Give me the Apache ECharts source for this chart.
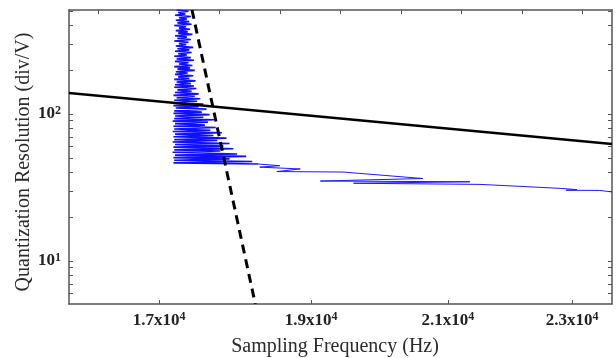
<!DOCTYPE html>
<html>
<head>
<meta charset="utf-8">
<script src="https://cdn.jsdelivr.net/npm/echarts@6/dist/echarts.min.js"></script>
<style>html,body{margin:0;padding:0;background:#fff;}#c{width:616px;height:358px;}</style>
</head>
<body>
<div id="c"></div>
<script>
// ---- data ----
const freqMin = 15916, freqMax = 23680;          // bottom axis extent (Hz, log)
const topMin = 15512, topMax = 24488;            // top axis extent (Hz, linear)
const resMin = 5.1, resMax = 510;                // y extent (div/V, log)

const freqTicks = [17000, 19000, 21000, 23000];
const freqTickText = ['1.7x10', '1.9x10', '2.1x10', '2.3x10'];
const freqTickExp = ['4', '4', '4', '4'];
const topTicks = [16000, 17000, 18000, 19000, 20000, 21000, 22000, 23000, 24000];
const resLabelTicks = [10, 100];
const resLabelText = ['10', '10'];
const resLabelExp = ['1', '2'];
const resTicks = [6, 7, 8, 9, 10, 20, 30, 40, 50, 60, 70, 80, 90, 100, 200, 300, 400, 500];

// dense measured band (upper part)
const bandFreq = [
  17220,17370,17240,17330,17200,17400,17250,17350,17210,17380,
  17230,17410,17190,17340,17250,17390,17210,17360,17240,17420,
  17200,17350,17230,17400,17190,17370,17250,17340,17210,17430,
  17230,17380,17200,17410,17240,17350,17190,17400,17220,17440,
  17200,17370,17250,17420,17190,17390,17230,17450,17210,17360,
  17200,17430,17240,17380,17190,17460,17220,17400,17200,17440,
  17190,17470,17230,17410,17200,17500,17180,17450,17220,17520,
  17190,17480,17200,17560,17180,17500,17210,17600,17190,17540,
  17180,17640,17200,17560,17190,17700,17170,17620,17200,17580,
  17180,17720,17190,17650,17170,17800,17200,17690,17180,17860,
  17190,17740,17170,17900,17200,17820,17180,17950,17190,17780,
  17170,18000,17200,18120,17180,17900,17190,18200,17180,18280
];
const bandRes = [
  510,500,490,480,470,461,452,443,434,425,
  417,408,400,392,384,377,369,362,355,348,
  341,334,327,321,314,308,302,296,290,284,
  278,273,267,262,257,252,247,242,237,232,
  228,223,219,214,210,206,202,198,194,190,
  186,182,179,175,172,168,165,161,158,155,
  152,149,146,143,140,137,134,132,129,127,
  124,122,119,117,114,112,110,108,105,103,
  101,99,97,95,93,91.5,89.5,88,86,84,
  82.5,81,79,77.5,76,74.5,73,71.5,70,68.5,
  67,66,64.5,63,62,60.5,59.5,58,57,56,
  55,53.5,52.5,51.5,50.5,49.5,48.5,47.5,46.5,45.7
];
// measured tail (lower right part)
const tailFreq = [18280, 18570, 18300, 18850, 18530, 19450, 20620, 19130, 21340, 19600, 21500,
  22140, 22800, 23080, 22900, 23470, 23680];
const tailRes = [45.7, 44.5, 43.5, 42.3, 40.6, 40.3, 36.4, 35, 34.6, 33.8, 33.2,
  32.2, 31.2, 30.6, 30.3, 30.2, 29.5];
const blackFreq = [15916, 23680];
const blackRes = [139, 62.5];
const dashFreq = [17415, 18240];
const dashRes = [510, 5.1];

// ---- chart ----
const L = Math.log10;
const pts = (xs, ys) => xs.map((x, i) => [L(x), L(ys[i])]);
const near = (arr, v) => arr.findIndex(t => Math.abs(L(t) - v) < 1e-6);

const serif = '"Liberation Serif", "DejaVu Serif", serif';
const axisCol = '#555';
const richLab = {
  b: {fontFamily: serif, fontSize: 17, fontWeight: 'bold', color: '#222'},
  s: {fontFamily: serif, fontSize: 12, fontWeight: 'bold', color: '#222', verticalAlign: 'top', padding: [0, 0, 7, 0]}
};

const chart = echarts.init(document.getElementById('c'), null, {renderer: 'canvas'});
chart.setOption({
  animation: false,
  backgroundColor: '#fff',
  grid: {left: 69, right: 4, top: 10, bottom: 54, containLabel: false},
  xAxis: [
    {
      type: 'value', position: 'bottom', min: L(freqMin), max: L(freqMax),
      axisLine: {show: true, onZero: false, lineStyle: {color: axisCol, width: 1.5}},
      axisTick: {show: true, inside: true, length: 4, customValues: freqTicks.map(L), lineStyle: {color: axisCol}},
      splitLine: {show: false},
      axisLabel: {
        customValues: freqTicks.map(L), margin: 7,
        formatter: v => { const i = near(freqTicks, v); return i < 0 ? '' : '{b|' + freqTickText[i] + '}{s|' + freqTickExp[i] + '}'; },
        rich: richLab
      }
    },
    {
      type: 'value', position: 'top', min: topMin, max: topMax,
      axisLine: {show: true, onZero: false, lineStyle: {color: axisCol, width: 1.5}},
      axisTick: {show: true, inside: true, length: 4, customValues: topTicks, lineStyle: {color: axisCol}},
      axisLabel: {show: false},
      splitLine: {show: false}
    }
  ],
  yAxis: [
    {
      type: 'value', position: 'left', min: L(resMin), max: L(resMax),
      axisLine: {show: true, onZero: false, lineStyle: {color: axisCol, width: 1.5}},
      axisTick: {show: true, inside: true, length: 4, customValues: resTicks.map(L), lineStyle: {color: axisCol}},
      splitLine: {show: false},
      axisLabel: {
        customValues: resLabelTicks.map(L), margin: 8,
        formatter: v => { const i = near(resLabelTicks, v); return i < 0 ? '' : '{b|' + resLabelText[i] + '}{s|' + resLabelExp[i] + '}'; },
        rich: richLab
      }
    },
    {
      type: 'value', position: 'right', min: L(resMin), max: L(resMax),
      axisLine: {show: true, onZero: false, lineStyle: {color: axisCol, width: 1.5}},
      axisTick: {show: true, inside: true, length: 4, customValues: resTicks.map(L), lineStyle: {color: axisCol}},
      axisLabel: {show: false},
      splitLine: {show: false}
    }
  ],
  graphic: [
    {type: 'text', x: 335, y: 347, style: {text: 'Sampling Frequency (Hz)', font: '20px ' + serif, fill: '#2a2a2a', textAlign: 'center', textVerticalAlign: 'middle'}},
    {type: 'text', x: 24, y: 162, rotation: Math.PI / 2, style: {text: 'Quantization Resolution (div/V)', font: '20px ' + serif, fill: '#2a2a2a', textAlign: 'center', textVerticalAlign: 'middle'}}
  ],
  series: [
    {
      type: 'line', xAxisIndex: 0, yAxisIndex: 0, data: pts(bandFreq, bandRes),
      symbol: 'none', lineStyle: {color: '#1010ff', width: 1.6}, clip: true, silent: true
    },
    {
      type: 'line', xAxisIndex: 0, yAxisIndex: 0, data: pts(tailFreq, tailRes),
      symbol: 'none', lineStyle: {color: '#1a1aff', width: 1}, clip: true, silent: true
    },
    {
      type: 'line', xAxisIndex: 0, yAxisIndex: 0, data: pts(blackFreq, blackRes),
      symbol: 'none', lineStyle: {color: '#000', width: 2.5}, clip: true, silent: true
    },
    {
      type: 'line', xAxisIndex: 0, yAxisIndex: 0, data: pts(dashFreq, dashRes),
      symbol: 'none', lineStyle: {color: '#000', width: 3, type: [9, 6]}, clip: true, silent: true
    }
  ]
});
</script>
</body>
</html>
